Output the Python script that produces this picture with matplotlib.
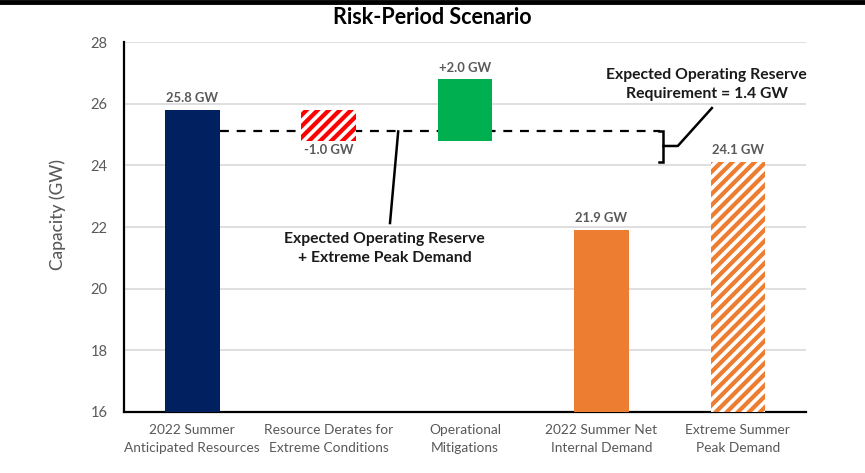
import matplotlib
matplotlib.use("Agg")
import matplotlib.pyplot as plt
from matplotlib.lines import Line2D

plt.rcParams['font.family'] = ['Lato', 'DejaVu Sans']
plt.rcParams['hatch.linewidth'] = 2.6

categories = ["2022 Summer\nAnticipated Resources", "Resource Derates for\nExtreme Conditions",
              "Operational\nMitigations", "2022 Summer Net\nInternal Demand",
              "Extreme Summer\nPeak Demand"]
bottoms = [16.0, 24.8, 24.8, 16.0, 16.0]
tops = [25.8, 25.8, 26.8, 21.9, 24.1]
labels = ["25.8 GW", "-1.0 GW", "+2.0 GW", "21.9 GW", "24.1 GW"]
colors = ["#002060", "#FF0000", "#00B050", "#ED7D31", "#ED7D31"]
hatched = [False, True, False, False, True]
reserve_line = 25.1
bracket_bottom = 24.1
yticks = [16, 18, 20, 22, 24, 26, 28]

fig = plt.figure(figsize=(8.65, 4.73), dpi=100)
ax = fig.add_axes([0.1434, 0.129, 0.7884, 0.782])
ax.set_xlim(-0.5, 4.5)
ax.set_ylim(16, 28)

x = list(range(len(categories)))
grey = "#595959"

# dashed reserve line (behind bars)
ax.plot([0.2, 3.43], [reserve_line, reserve_line], ls=(0, (4, 3.5)), color="black", lw=1.6, zorder=2)

for i in x:
    h = tops[i] - bottoms[i]
    if hatched[i]:
        ax.bar(i, h, bottom=bottoms[i], width=0.40, color=colors[i], edgecolor="white",
               hatch="///", linewidth=0, zorder=3)
    else:
        ax.bar(i, h, bottom=bottoms[i], width=0.40, color=colors[i], linewidth=0, zorder=3)

# value labels
vfs = 9.4
ax.text(0, tops[0] + 0.2, labels[0], ha="center", va="bottom", fontsize=vfs, fontweight="bold", color=grey)
ax.text(1, bottoms[1] - 0.12, labels[1], ha="center", va="top", fontsize=vfs, fontweight="bold", color=grey)
ax.text(2, tops[2] + 0.15, labels[2], ha="center", va="bottom", fontsize=vfs, fontweight="bold", color=grey)
ax.text(3, tops[3] + 0.2, labels[3], ha="center", va="bottom", fontsize=vfs, fontweight="bold", color=grey)
ax.text(4, tops[4] + 0.2, labels[4], ha="center", va="bottom", fontsize=vfs, fontweight="bold", color=grey)

# bracket
bx = 3.455
ax.plot([3.42, bx, bx, 3.42], [reserve_line, reserve_line, bracket_bottom, bracket_bottom],
        color="black", lw=1.8, zorder=4, solid_joinstyle="miter")
ax.plot([bx, 3.56, 3.81], [24.63, 24.63, 25.86], color="black", lw=1.8, zorder=4)
ax.text(3.77, 26.62, "Expected Operating Reserve\nRequirement = 1.4 GW", ha="center", va="center",
        fontsize=11.3, fontweight="bold", color="#1a1a1a", linespacing=1.45)

# left annotation
ax.plot([1.51, 1.45], [reserve_line, 22.13], color="black", lw=1.8, zorder=4)
ax.text(1.41, 21.3, "Expected Operating Reserve\n+ Extreme Peak Demand", ha="center", va="center",
        fontsize=11.3, fontweight="bold", color="#1a1a1a", linespacing=1.45)

ax.set_yticks(yticks)
ax.set_xticks(x)
ax.set_xticklabels(categories, fontsize=9.9, color=grey, linespacing=1.6)
ax.tick_params(axis="y", labelsize=10.5, colors=grey, length=0, pad=12)
ax.tick_params(axis="x", length=0, pad=9)
ax.grid(axis="y", color="#D9D9D9", lw=1.2, zorder=0)
ax.set_axisbelow(True)
for s in ["top", "right"]:
    ax.spines[s].set_visible(False)
ax.spines["left"].set_color("black")
ax.spines["left"].set_linewidth(1.6)
ax.spines["bottom"].set_color("black")
ax.spines["bottom"].set_linewidth(1.6)
ax.set_ylabel("Capacity (GW)", fontsize=12.5, color=grey, fontweight="medium")
ax.yaxis.set_label_coords(-0.085, 0.535)

fig.text(0.5, 0.962, "Risk-Period Scenario", ha="center", va="center", fontsize=15.5, fontweight="bold")
fig.add_artist(Line2D([0, 1], [0.996, 0.996], transform=fig.transFigure, color="black", lw=3.5))

fig.savefig("out.png", dpi=100)
